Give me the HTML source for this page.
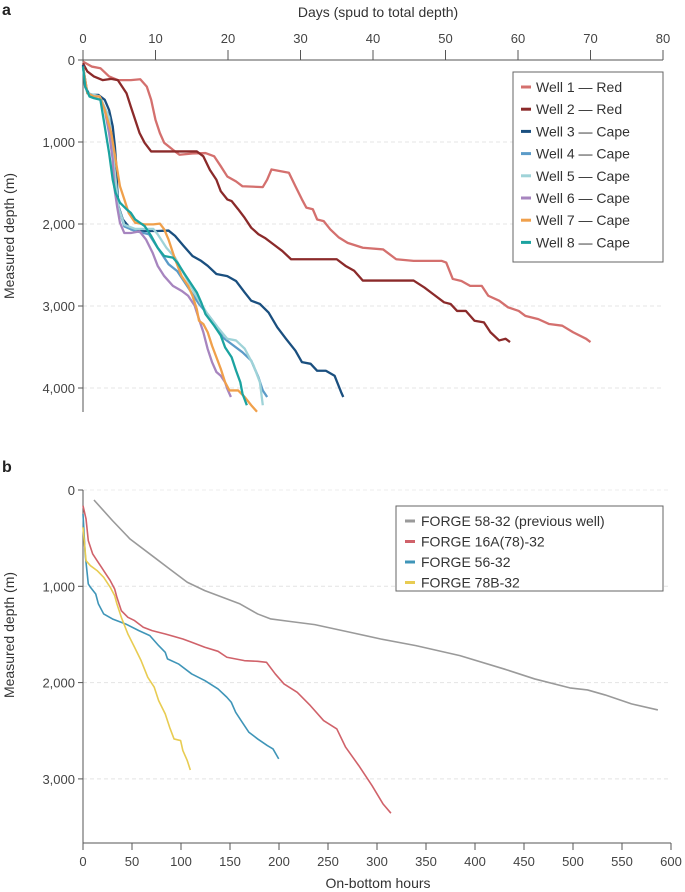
<!DOCTYPE html>
<html><head><meta charset="utf-8"><style>
body{margin:0;background:#fff;}
svg{display:block;font-family:"Liberation Sans",sans-serif;}
</style></head><body>
<svg id="c" width="685" height="892"></svg>
<script>
const wellNamesA=["Well 1 — Red","Well 2 — Red","Well 3 — Cape","Well 4 — Cape","Well 5 — Cape","Well 6 — Cape","Well 7 — Cape","Well 8 — Cape"];
const colorsA=["#d4706e","#8b2a2a","#1a4f7f","#5b9bc8","#9fd3d8","#a785bf","#f0a04b","#1ba3a0"];
const daysTicks=[0,10,20,30,40,50,60,70,80];
const depthTicksA=[0,1000,2000,3000,4000];
const depthLabels=["0","1,000","2,000","3,000","4,000"];
const well1=[[0,20],[1.2,80],[2.4,100],[3.6,200],[4.8,245],[6.6,245],[7.9,235],[8.8,325],[9.4,485],[10,730],[10.6,890],[11.2,1010],[12.4,1095],[13.3,1155],[15.1,1140],[16.9,1135],[18.1,1175],[19,1295],[19.9,1420],[21.1,1480],[22,1540],[24.8,1550],[25.4,1460],[26,1335],[27.2,1355],[28.4,1375],[29.3,1540],[30.2,1700],[30.8,1800],[31.7,1820],[32.3,1945],[33.2,1965],[34.1,2065],[35.3,2165],[36.5,2230],[38.6,2290],[41.4,2310],[43.2,2430],[45.6,2450],[49.5,2450],[50.1,2470],[51,2670],[52.2,2695],[53.4,2755],[55,2755],[55.9,2875],[57.4,2935],[58.6,3015],[60.1,3060],[61,3120],[62.8,3160],[64.3,3220],[66.1,3240],[67.6,3320],[69.4,3400],[70,3440]];
const well2=[[0,40],[0.6,140],[1.5,200],[2.7,245],[3.9,230],[4.8,245],[5.1,285],[6,405],[6.6,570],[7.2,730],[7.8,890],[8.5,1010],[9.4,1115],[10.9,1115],[12.7,1115],[15.7,1115],[16.6,1175],[17.5,1340],[18.4,1460],[19,1600],[19.9,1700],[20.5,1720],[21.4,1820],[22.3,1925],[23.2,2045],[24.2,2125],[25.1,2170],[26.3,2250],[27.5,2330],[28.7,2430],[30.8,2430],[35,2430],[36.2,2510],[37.4,2570],[38.6,2690],[41.1,2690],[45.6,2690],[47.1,2775],[48.3,2855],[49.8,2955],[50.7,2975],[51.6,3060],[52.8,3060],[54,3180],[55.3,3200],[56.2,3320],[57.4,3420],[58.3,3400],[58.9,3440]];
const well3=[[0,60],[0.3,325],[0.9,425],[2.1,425],[3,485],[3.6,610],[4.1,810],[4.4,1055],[4.6,1300],[4.7,1540],[4.9,1785],[5.5,1945],[6.6,2065],[7.8,2085],[10.3,2085],[11.8,2080],[12.7,2145],[13.9,2270],[15.1,2390],[16.3,2450],[17.2,2510],[18.4,2610],[19.9,2635],[21.1,2695],[22.3,2835],[23.2,2935],[24.4,2975],[25.6,3080],[26.8,3260],[28,3400],[29.3,3545],[30.2,3685],[31.4,3705],[32.3,3790],[33.5,3790],[34.7,3850],[35.6,4050],[35.9,4110]];
const well4=[[0,80],[0.6,405],[2.3,445],[3.6,700],[4.3,1300],[4.9,1800],[5.7,2030],[7.2,2085],[9.1,2125],[10.3,2290],[11.8,2490],[13,2575],[14.5,2775],[16,2975],[17.2,3100],[18.4,3240],[19.3,3385],[20.5,3465],[22,3565],[23.2,3665],[24.2,3870],[24.8,4030],[25.4,4110]];
const well5=[[0,80],[0.6,405],[2.3,445],[3.6,700],[4.3,1300],[4.9,1800],[5.7,2010],[7.2,2060],[9.7,2060],[10.3,2125],[11.5,2290],[12.7,2410],[14.5,2700],[16,2935],[17.2,3100],[18.4,3240],[19.9,3400],[21.1,3420],[22.3,3520],[23.5,3720],[24.4,3930],[24.8,4210]];
const well6=[[0,80],[0.6,405],[1.5,445],[2.3,445],[3,610],[3.6,890],[4.1,1215],[4.3,1540],[4.7,1785],[5.1,1985],[5.7,2110],[6.6,2110],[7.8,2090],[8.7,2190],[9.6,2350],[10.3,2510],[11.2,2635],[12.4,2755],[13.6,2815],[14.5,2875],[15.4,2995],[16,3160],[16.6,3320],[17.2,3525],[17.8,3685],[18.4,3805],[19,3850],[19.6,3930],[19.9,4010],[20.4,4110]];
const well7=[[0,80],[0.6,405],[1.5,445],[2.3,445],[3,610],[3.9,890],[4.5,1215],[5.1,1540],[5.7,1700],[6.3,1865],[7.2,1985],[8.5,2005],[9.7,2005],[10.6,1995],[11.2,2065],[11.8,2190],[12.7,2430],[13.6,2635],[14.5,2755],[15.1,2875],[15.7,3040],[16,3180],[16.6,3220],[17.2,3320],[17.8,3485],[18.4,3625],[19,3765],[19.6,3930],[20.2,4030],[21.4,4030],[22.3,4110],[23.2,4210],[24,4290]];
const well8=[[0,80],[0.3,325],[0.9,445],[1.5,465],[2.4,485],[3,810],[3.6,1135],[4.1,1460],[4.5,1620],[5.1,1740],[6,1820],[6.6,1865],[7.2,1945],[8.5,2025],[9.4,2145],[10.3,2290],[11.2,2390],[12.4,2410],[13,2470],[13.9,2595],[14.8,2715],[15.7,2835],[16.3,2955],[16.9,3100],[18.1,3240],[19,3360],[19.6,3505],[20.5,3625],[21.1,3785],[21.7,3930],[22,4070],[22.6,4210]];
const seriesA=[well1,well2,well3,well4,well5,well6,well7,well8];

const wellNamesB=["FORGE 58-32 (previous well)","FORGE 16A(78)-32","FORGE 56-32","FORGE 78B-32"];
const colorsB=["#9a9a9a","#d0626a","#3f95b8","#e8cc52"];
const hoursTicks=[0,50,100,150,200,250,300,350,400,450,500,550,600];
const depthTicksB=[0,1000,2000,3000];
const forge58=[[11.2,104],[30.1,318],[48,509],[72.7,699],[88.4,820],[106.4,958],[124.3,1045],[142.3,1114],[160.2,1183],[178.2,1287],[191.7,1339],[209.6,1363],[236.5,1398],[272.4,1477],[303.8,1547],[339.7,1616],[384.6,1720],[429.5,1858],[460.9,1962],[496.8,2055],[514.8,2076],[532.7,2128],[559.7,2221],[586.6,2284]];
const forge16=[[0,163],[3.1,301],[5.4,526],[9.9,664],[14.4,734],[18.9,803],[23.3,872],[27.8,941],[32.3,1028],[34.6,1114],[39.1,1253],[45.8,1322],[52.6,1356],[61.5,1425],[70.5,1460],[84,1495],[101.9,1547],[110.9,1581],[124.3,1633],[137.8,1675],[146.8,1737],[164.7,1772],[178.2,1779],[187.2,1789],[196.2,1910],[205.1,2014],[218.6,2101],[232,2239],[245.5,2394],[259,2481],[268,2671],[281.4,2862],[294.9,3069],[306.1,3259],[314.2,3356]];
const forge56=[[0,249],[2.2,664],[5.4,976],[7.6,1010],[13,1080],[15.7,1183],[21.1,1287],[30.1,1339],[43.5,1391],[57,1460],[68.2,1512],[77.2,1616],[83.9,1685],[86.2,1754],[97.4,1806],[110.9,1910],[124.3,1979],[137.8,2066],[146.8,2152],[151.3,2204],[155.8,2308],[162.5,2412],[169.3,2516],[178.2,2585],[188.1,2654],[193.9,2689],[199.7,2792]];
const forge78=[[0,388],[3.1,734],[7.6,786],[14.4,837],[21.1,907],[27.8,1010],[32.3,1097],[34.6,1183],[39.1,1322],[45.8,1495],[52.6,1633],[59.3,1772],[66.1,1945],[72.7,2048],[77.2,2187],[83.9,2325],[88.4,2464],[92.9,2585],[99.6,2602],[101.9,2706],[106.4,2810],[109.5,2907]];
const seriesB=[forge58,forge16,forge56,forge78];

const svg=document.getElementById('c');
const NS="http://www.w3.org/2000/svg";
function mk(tag,attrs,parent){const e=document.createElementNS(NS,tag);for(const k in attrs)e.setAttribute(k,attrs[k]);(parent||svg).appendChild(e);return e;}
function txt(s,x,y,attrs){const e=mk('text',Object.assign({x:x,y:y,'font-size':13,fill:'#444'},attrs||{}));e.textContent=s;return e;}

// Panel A scales
const xA=d=>83+d*7.25, yA=m=>60+m*0.082;
const xB=h=>83+h*0.98, yB=m=>490+m*0.0963;

let t=txt('a',2,15,{'font-weight':'bold','font-size':16,fill:'#222'});


t=txt('b',2,472,{'font-weight':'bold','font-size':16,fill:'#222'});



// Grid A
depthTicksA.forEach((v,i)=>{
  if(v>0){const g=mk('line',{x1:xA(0),x2:xA(80),y1:yA(v),y2:yA(v),stroke:'#e4e4e4','stroke-dasharray':'4 3'});
  
  }
  const tk=mk('line',{x1:xA(0)-5,x2:xA(0),y1:yA(v),y2:yA(v),stroke:'#555'});
  
  
  const l=txt(depthLabels[i],xA(0)-8,yA(v)+5,{'text-anchor':'end'});
  
  
});
let ax=mk('line',{x1:xA(0),x2:xA(80),y1:60,y2:60,stroke:'#555'});


ax=mk('line',{x1:xA(0),x2:xA(0),y1:60,y2:412,stroke:'#555'});


daysTicks.forEach(v=>{
  const tk=mk('line',{x1:xA(v),x2:xA(v),y1:50,y2:60,stroke:'#555'});
  
  
  const l=txt(String(v),xA(v),43,{'text-anchor':'middle'});
  
  
});
t=txt('Days (spud to total depth)',378,17,{'text-anchor':'middle','font-size':14,fill:'#333'});


t=txt('Measured depth (m)',0,0,{'text-anchor':'middle','font-size':14,fill:'#333',transform:'translate(14,236) rotate(-90)'});



function drawLine(data,xs,ys,color,w,name){
  const p=mk('polyline',{points:data.map(d=>xs(d[0])+','+ys(d[1])).join(' '),fill:'none',stroke:color,'stroke-width':w,'stroke-linejoin':'round'});
  
  
}
const order=[0,1,2,3,4,5,6,7];
order.forEach(i=>drawLine(seriesA[i],xA,yA,colorsA[i],2.3,'series-well-'+(i+1)));

// Legend A
let lb=mk('rect',{x:513,y:72,width:150,height:190,fill:'#fff',stroke:'#666'});


wellNamesA.forEach((n,i)=>{
  const y=92+i*22.2;
  const s=mk('line',{x1:521,x2:531,y1:y-5,y2:y-5,stroke:colorsA[i],'stroke-width':3});
  
  
  const l=txt(n,536,y,{'font-size':14,fill:'#333'});
  
  
});

// Panel B
depthTicksB.forEach((v,i)=>{
  if(v>0){const g=mk('line',{x1:xB(0),x2:xB(600),y1:yB(v),y2:yB(v),stroke:'#e4e4e4','stroke-dasharray':'4 3'});
  
  }
  else{const g=mk('line',{x1:xB(0),x2:xB(600),y1:yB(v),y2:yB(v),stroke:'#ececec','stroke-dasharray':'4 3'});
  
  }
  const tk=mk('line',{x1:xB(0)-5,x2:xB(0),y1:yB(v),y2:yB(v),stroke:'#555'});
  
  
  const l=txt(depthLabels[i],xB(0)-8,yB(v)+5,{'text-anchor':'end'});
  
  
});
ax=mk('line',{x1:xB(0),x2:xB(600),y1:843,y2:843,stroke:'#555'});


ax=mk('line',{x1:xB(0),x2:xB(0),y1:490,y2:843,stroke:'#555'});


hoursTicks.forEach(v=>{
  const tk=mk('line',{x1:xB(v),x2:xB(v),y1:843,y2:850,stroke:'#555'});
  
  
  const l=txt(String(v),xB(v),866,{'text-anchor':'middle'});
  
  
});
t=txt('On-bottom hours',378,888,{'text-anchor':'middle','font-size':14,fill:'#333'});


t=txt('Measured depth (m)',0,0,{'text-anchor':'middle','font-size':14,fill:'#333',transform:'translate(14,635) rotate(-90)'});


seriesB.forEach((s,i)=>drawLine(s,xB,yB,colorsB[i],1.6,'series-forge-'+(i+1)));

lb=mk('rect',{x:396,y:506,width:267,height:85,fill:'#fff',stroke:'#666'});


wellNamesB.forEach((n,i)=>{
  const y=526+i*20.5;
  const s=mk('line',{x1:405,x2:415,y1:y-5,y2:y-5,stroke:colorsB[i],'stroke-width':3});
  
  
  const l=txt(n,421,y,{'font-size':14,fill:'#333'});
  
  
});
</script>
</body></html>
